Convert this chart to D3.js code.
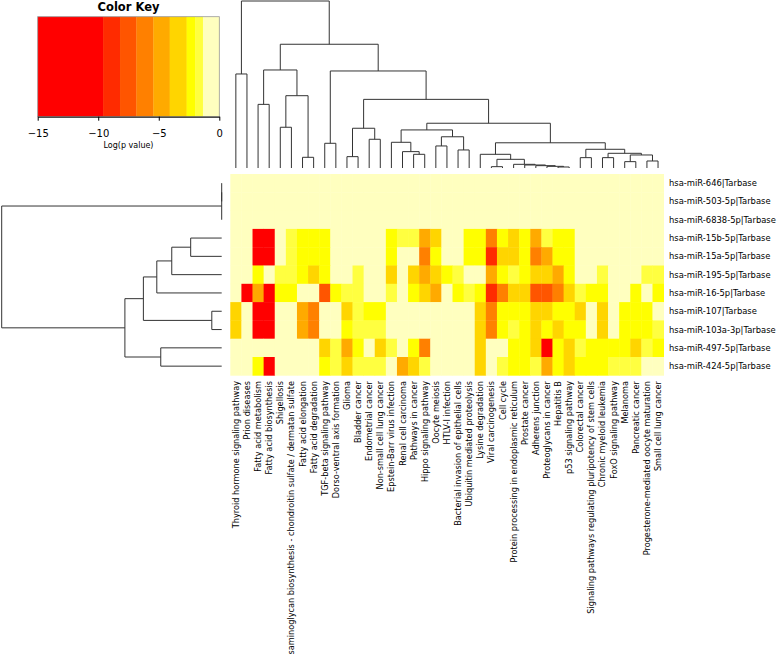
<!DOCTYPE html>
<html><head><meta charset="utf-8">
<script src="https://cdn.jsdelivr.net/npm/d3@7"></script>
<style>body{margin:0;background:#fff}svg{display:block;font-family:"DejaVu Sans",sans-serif}</style>
</head><body><svg id="c" width="778" height="654"></svg>
<script>
const rowLabels = ["hsa-miR-646|Tarbase","hsa-miR-503-5p|Tarbase","hsa-miR-6838-5p|Tarbase","hsa-miR-15b-5p|Tarbase","hsa-miR-15a-5p|Tarbase","hsa-miR-195-5p|Tarbase","hsa-miR-16-5p|Tarbase","hsa-miR-107|Tarbase","hsa-miR-103a-3p|Tarbase","hsa-miR-497-5p|Tarbase","hsa-miR-424-5p|Tarbase"];
const colLabels = ["Thyroid hormone signaling pathway","Prion diseases","Fatty acid metabolism","Fatty acid biosynthesis","Shigellosis","Glycosaminoglycan biosynthesis - chondroitin sulfate / dermatan sulfate","Fatty acid elongation","Fatty acid degradation","TGF-beta signaling pathway","Dorso-ventral axis formation","Glioma","Bladder cancer","Endometrial cancer","Non-small cell lung cancer","Epstein-Barr virus infection","Renal cell carcinoma","Pathways in cancer","Hippo signaling pathway","Oocyte meiosis","HTLV-I infection","Bacterial invasion of epithelial cells","Ubiquitin mediated proteolysis","Lysine degradation","Viral carcinogenesis","Cell cycle","Protein processing in endoplasmic reticulum","Prostate cancer","Adherens junction","Proteoglycans in cancer","Hepatitis B","p53 signaling pathway","Colorectal cancer","Signaling pathways regulating pluripotency of stem cells","Chronic myeloid leukemia","FoxO signaling pathway","Melanoma","Pancreatic cancer","Progesterone-mediated oocyte maturation","Small cell lung cancer"];
// log(p value) per miRNA (rows) x pathway (columns)
const logP = [
[-0.2,-0.2,-0.2,-0.2,-0.2,-0.2,-0.2,-0.2,-0.2,-0.2,-0.2,-0.2,-0.2,-0.2,-0.2,-0.2,-0.2,-0.2,-0.2,-0.2,-0.2,-0.2,-0.2,-0.2,-0.2,-0.2,-0.2,-0.2,-0.2,-0.2,-0.2,-0.2,-0.2,-0.2,-0.2,-0.2,-0.2,-0.2,-0.2],
[-0.2,-0.2,-0.2,-0.2,-0.2,-0.2,-0.2,-0.2,-0.2,-0.2,-0.2,-0.2,-0.2,-0.2,-0.2,-0.2,-0.2,-0.2,-0.2,-0.2,-0.2,-0.2,-0.2,-0.2,-0.2,-0.2,-0.2,-0.2,-0.2,-0.2,-0.2,-0.2,-0.2,-0.2,-0.2,-0.2,-0.2,-0.2,-0.2],
[-0.2,-0.2,-0.2,-0.2,-0.2,-0.2,-0.2,-0.2,-0.2,-0.2,-0.2,-0.2,-0.2,-0.2,-0.2,-0.2,-0.2,-0.2,-0.2,-0.2,-0.2,-0.2,-0.2,-0.2,-0.2,-0.2,-0.2,-0.2,-0.2,-0.2,-0.2,-0.2,-0.2,-0.2,-0.2,-0.2,-0.2,-0.2,-0.2],
[-0.6,-0.5,-11.2,-10.8,-0.7,-1.7,-2.3,-2.2,-2.4,-0.5,-0.6,-0.8,-0.5,-0.9,-2.2,-1.6,-1.8,-4.9,-3.3,-0.7,-0.6,-2.3,-2.5,-5.9,-2.2,-3.5,-2.3,-4.6,-1.7,-2.4,-2.2,-0.4,-0.3,-0.5,-0.4,-0.3,-0.5,-0.4,-0.3],
[-0.5,-0.6,-11.0,-10.5,-0.7,-1.6,-2.2,-2.3,-2.2,-0.5,-0.6,-0.7,-0.5,-0.8,-2.3,-0.9,-1.0,-6.2,-2.3,-0.6,-0.5,-2.2,-2.4,-8.9,-3.4,-3.3,-2.4,-6.0,-4.7,-2.3,-2.2,-0.4,-0.3,-0.5,-0.4,-0.3,-0.4,-0.5,-0.3],
[-0.6,-0.5,-2.3,-0.9,-1.7,-1.8,-2.4,-3.3,-2.2,-0.6,-0.7,-1.6,-0.8,-0.9,-3.0,-1.0,-3.4,-4.8,-3.6,-2.3,-1.7,-0.9,-0.8,-4.7,-2.3,-1.6,-2.4,-3.5,-3.7,-4.5,-2.3,-0.8,-0.7,-1.6,-0.9,-0.7,-0.8,-1.7,-1.6],
[-0.9,-11.5,-4.9,-10.9,-2.3,-2.2,-1.0,-1.1,-7.4,-2.3,-1.7,-1.8,-0.9,-0.8,-1.7,-1.0,-2.4,-3.6,-4.6,-0.9,-2.2,-1.7,-2.3,-8.8,-6.0,-3.4,-3.6,-7.6,-7.3,-6.1,-3.5,-1.8,-2.3,-2.2,-1.0,-0.8,-2.2,-0.9,-2.3],
[-3.5,-0.7,-11.8,-11.3,-0.8,-0.9,-4.8,-6.2,-0.8,-0.9,-3.4,-1.7,-2.3,-2.2,-0.8,-0.7,-0.9,-0.8,-0.7,-0.6,-0.8,-0.9,-3.6,-6.3,-2.3,-2.4,-2.2,-3.3,-3.4,-2.4,-2.3,-3.2,-0.9,-3.3,-1.0,-2.3,-2.2,-2.4,-0.9],
[-3.4,-0.7,-11.6,-11.1,-0.8,-0.9,-4.7,-6.1,-0.8,-0.9,-2.3,-1.8,-1.7,-1.6,-0.8,-0.7,-0.9,-0.8,-0.7,-0.6,-0.8,-0.9,-3.5,-6.2,-2.4,-1.7,-2.3,-3.4,-2.3,-3.3,-2.2,-2.3,-0.9,-3.2,-1.0,-2.3,-2.4,-2.2,-1.7],
[-0.6,-0.5,-0.7,-0.8,-0.9,-0.7,-0.8,-0.9,-3.3,-1.7,-4.9,-2.3,-0.9,-3.4,-1.7,-0.8,-2.3,-5.8,-0.9,-0.8,-0.7,-0.9,-3.5,-0.8,-0.9,-2.3,-2.4,-3.3,-11.0,-2.3,-3.4,-1.7,-2.2,-2.3,-2.4,-2.2,-3.2,-1.7,-2.3],
[-0.6,-0.5,-2.3,-10.7,-0.8,-0.7,-0.9,-0.8,-2.4,-1.7,-3.5,-1.8,-1.7,-1.6,-0.9,-4.8,-3.4,-1.7,-0.8,-0.7,-0.9,-0.8,-3.6,-0.9,-1.7,-2.3,-2.2,-1.8,-4.9,-2.3,-3.3,-2.4,-2.3,-2.2,-1.6,-1.7,-1.6,-0.9,-0.8]
];
const colorBreaks = [-9.6,-8.2,-6.85,-5.45,-4.1,-2.7,-2.0,-1.35];
const colorValues = ["#FF0000","#FF2B00","#FF5500","#FF8000","#FFAA00","#FFD500","#FFFF00","#FFFF40","#FFFFBF"];
const keyTicks = [-15,-10,-5,0];
const keyDomain = [-15,0];
// dendrograms: [left, right, height]; leaves = column / row indices
const colTree = [[0,1,5.63],[[[2,3,3.81],[[4,5,2.44],[6,7,0.64],4.33],5.87],[[8,9,1.48],[[[10,11,0.68],[12,13,1.72],2.38],[[[14,[15,[16,17,0.82],0.98],1.54],[[18,19,1.32],[20,21,1.08],1.87],2.28],[[22,[[23,24,0.08],[25,[26,[27,[28,[29,30,0.06],0.10],0.14],0.18],0.22],0.52],0.82],[[31,32,0.62],[[33,34,0.62],[[35,36,0.38],[37,38,0.42],0.78],0.88],1.12],1.51],2.68],4.11],5.81],7.41],10.0];
const rowTree = [[[0,1,0],2,0],[[[[[3,4,1.41],5,2.27],6,2.95],[7,8,0.45],3.56],[9,10,2.77],4.4],10.0];

const svg = d3.select("#c");
const hmX0 = 230.3, hmX1 = 663.6, hmY0 = 174, hmY1 = 375.3;
const x = d3.scaleBand().domain(d3.range(colLabels.length)).range([hmX0, hmX1]).paddingInner(0);
const y = d3.scaleBand().domain(d3.range(rowLabels.length)).range([hmY0, hmY1]).paddingInner(0);
const color = d3.scaleThreshold().domain(colorBreaks).range(colorValues);

// cells
const cells = [];
logP.forEach((row, r) => row.forEach((v, c) => cells.push({r, c, v})));
svg.append("g").selectAll("rect").data(cells).join("rect")
  .attr("x", d => x(d.c)).attr("y", d => y(d.r))
  .attr("width", x.bandwidth() + 0.4).attr("height", y.bandwidth() + 0.4)
  .attr("fill", d => color(d.v));

// row labels
svg.append("g").selectAll("text").data(rowLabels).join("text")
  .attr("x", 669).attr("y", (d, i) => y(i) + y.bandwidth() / 2)
  .attr("dominant-baseline", "central").attr("font-size", 8.4).attr("fill", "#000")
  .text(d => d);

// column labels
svg.append("g").selectAll("text").data(colLabels).join("text")
  .attr("transform", (d, i) => `translate(${x(i) + x.bandwidth() / 2},381) rotate(-90)`)
  .attr("text-anchor", "end").attr("dominant-baseline", "central")
  .attr("font-size", 8.2).attr("fill", "#000")
  .text(d => d);

// dendrogram drawing
function layout(node, pos) {
  if (typeof node === "number") return {p: pos(node), h: 0};
  const L = layout(node[0], pos), R = layout(node[1], pos);
  return {p: (L.p + R.p) / 2, h: node[2], L, R};
}
const segs = [];
function collect(n) {
  if (!n.L) return;
  segs.push([n.L.p, n.h, n.R.p, n.h]);
  segs.push([n.L.p, n.h, n.L.p, n.L.h]);
  segs.push([n.R.p, n.h, n.R.p, n.R.h]);
  collect(n.L); collect(n.R);
}
// column dendrogram
const colH = d3.scaleLinear().domain([0, 10]).range([168, 1]);
const cRoot = layout(colTree, i => x(i) + x.bandwidth() / 2);
segs.length = 0; collect(cRoot);
svg.append("g").selectAll("line").data(segs.slice()).join("line")
  .attr("x1", d => d[0]).attr("x2", d => d[2])
  .attr("y1", d => colH(d[1])).attr("y2", d => colH(d[3]))
  .attr("stroke", "#333").attr("stroke-width", 1);
// row dendrogram
const rowH = d3.scaleLinear().domain([0, 10]).range([221.7, 1.7]);
const rRoot = layout(rowTree, i => y(i) + y.bandwidth() / 2);
segs.length = 0; collect(rRoot);
svg.append("g").selectAll("line").data(segs.slice()).join("line")
  .attr("y1", d => d[0]).attr("y2", d => d[2])
  .attr("x1", d => rowH(d[1])).attr("x2", d => rowH(d[3]))
  .attr("stroke", "#333").attr("stroke-width", 1);

// color key
const kx = d3.scaleLinear().domain(keyDomain).range([37.7, 219.3]);
const kEdges = [keyDomain[0], ...colorBreaks, keyDomain[1]];
const key = svg.append("g");
key.selectAll("rect").data(d3.range(kEdges.length - 1)).join("rect")
  .attr("x", i => kx(kEdges[i])).attr("width", i => kx(kEdges[i + 1]) - kx(kEdges[i]) + 0.3)
  .attr("y", 16.7).attr("height", 100)
  .attr("fill", i => colorValues[i]);
key.append("rect").attr("x", kx(-15)).attr("y", 16.7).attr("width", kx(0) - kx(-15)).attr("height", 100)
  .attr("fill", "none").attr("stroke", "#999").attr("stroke-width", 0.8);
const ax = key.append("g").attr("transform", "translate(0,116.7)")
  .call(d3.axisBottom(kx).tickValues(keyTicks).tickSize(4).tickSizeOuter(0).tickFormat(d3.format("d")));
ax.selectAll("text").attr("font-size", 10).attr("font-family", "DejaVu Sans")
  .attr("y", 16.5).attr("dy", null).attr("dominant-baseline", "central");
ax.selectAll("path,line").attr("stroke", "#000");
key.append("text").attr("x", 128.5).attr("y", 7).attr("text-anchor", "middle").attr("dominant-baseline", "central")
  .attr("font-size", 11.5).attr("font-weight", "bold").text("Color Key");
key.append("text").attr("x", 128.5).attr("y", 145).attr("text-anchor", "middle").attr("dominant-baseline", "central")
  .attr("font-size", 8).text("Log(p value)");
</script></body></html>
